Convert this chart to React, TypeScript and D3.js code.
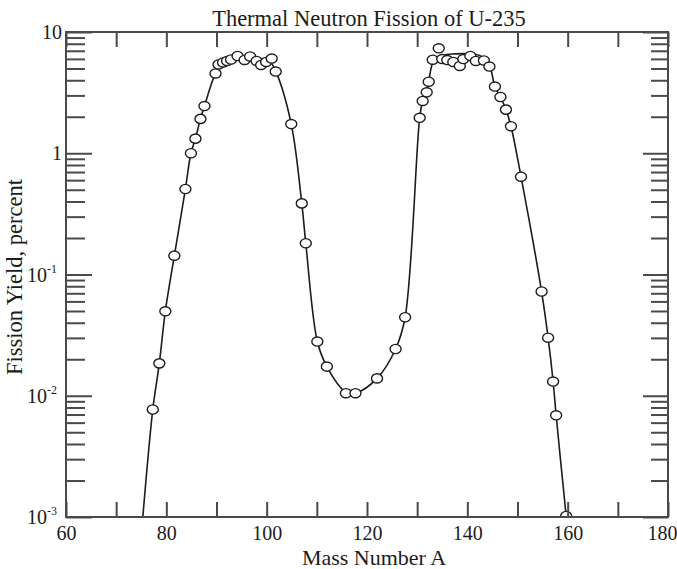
import React, { useEffect, useRef } from "react";
import * as d3 from "d3";

// measured fission yields (circles)
const massNumber = [
  77.3, 78.6, 79.8, 81.6, 83.8, 84.9, 85.8, 86.8, 87.6,
  89.8, 90.4, 91.3, 92.1, 92.9, 94.2, 95.6, 96.7, 98.0, 98.9, 99.9, 101.0, 101.8,
  104.9, 107.0, 107.8, 110.1, 112.0, 115.8, 117.7, 122.0, 125.7, 127.6,
  130.5, 131.1, 131.9, 132.3, 133.1, 134.3, 135.0, 136.0, 137.2, 138.5, 139.2,
  140.6, 141.7, 143.3, 144.4, 145.5, 146.6, 147.7, 148.7, 150.7,
  154.8, 156.1, 157.1, 157.7, 159.7,
];
const yieldPct = [
  0.0077, 0.0185, 0.0497, 0.143, 0.507, 1.0, 1.32, 1.92, 2.45,
  4.55, 5.4, 5.61, 5.77, 5.93, 6.34, 5.88, 6.28, 5.77, 5.35, 5.66, 6.04, 4.72,
  1.74, 0.386, 0.181, 0.028, 0.0174, 0.0105, 0.0105, 0.0139, 0.0243, 0.0444,
  1.96, 2.7, 3.18, 3.89, 5.91, 7.34, 5.98, 5.87, 5.66, 5.25, 5.98,
  6.34, 5.77, 5.82, 5.19, 3.55, 2.91, 2.29, 1.67, 0.641,
  0.0724, 0.0301, 0.0131, 0.0069, 0.00102,
];

// smooth curve drawn through the data
const curveMass = [
  75.0, 77.3, 78.6, 79.8, 81.6, 83.8, 84.9, 85.8, 86.8, 87.6, 89.8, 91.3, 93.0,
  94.8, 96.8, 98.8, 100.5, 101.8, 104.9, 107.0, 107.8, 110.1, 112.0, 115.8, 117.7,
  122.0, 125.7, 127.6, 130.5, 131.1, 131.9, 132.3, 133.3, 135.0, 137.5, 140.5,
  142.8, 144.4, 145.5, 146.6, 147.7, 148.7, 150.7, 154.8, 156.1, 157.1, 157.7, 159.7,
];
const curveYield = [
  0.0007, 0.0077, 0.0185, 0.0497, 0.143, 0.507, 1.0, 1.32, 1.92, 2.45, 4.55, 5.6, 6.05,
  6.25, 6.2, 6.0, 5.8, 4.75, 1.74, 0.386, 0.181, 0.028, 0.0174, 0.0107, 0.0105,
  0.0139, 0.0243, 0.0444, 1.96, 2.7, 3.18, 3.89, 5.8, 6.4, 6.6, 6.6,
  6.3, 5.3, 3.55, 2.91, 2.29, 1.67, 0.641, 0.0724, 0.0301, 0.0131, 0.0069, 0.00102,
];

const xTicks = [60, 70, 80, 90, 100, 110, 120, 130, 140, 150, 160, 170, 180];
const xTickLabels = ["60", "", "80", "", "100", "", "120", "", "140", "", "160", "", "180"];
const yDecades = [0.001, 0.01, 0.1, 1, 10];
const yDecadeLabels = [
  ["10", "-3"],
  ["10", "-2"],
  ["10", "-1"],
  ["1", ""],
  ["10", ""],
];

const width = 677;
const height = 569;
const margin = { top: 32, right: 9, bottom: 52, left: 66 };
const ink = "#1c1c1c";
const axisInk = "#4a4a4a";
const font = "'Liberation Serif', 'Times New Roman', serif";

function FissionChart() {
  const ref = useRef<SVGSVGElement>(null);

  useEffect(() => {
    const svg = d3.select(ref.current);
    svg.selectAll("*").remove();

    const x0 = margin.left;
    const x1 = width - margin.right;
    const y0 = height - margin.bottom;
    const y1 = margin.top;

    const xScale = d3.scaleLinear().domain([60, 180]).range([x0, x1]);
    const yScale = d3.scaleLog().domain([0.001, 10]).range([y0, y1]);

    svg
      .append("defs")
      .append("clipPath")
      .attr("id", "plot-clip")
      .append("rect")
      .attr("x", x0)
      .attr("y", y1)
      .attr("width", x1 - x0)
      .attr("height", y0 - y1);

    const plot = svg.append("g").attr("clip-path", "url(#plot-clip)");

    // fitted curve
    const curvePts = curveMass.map((m, i) => [m, curveYield[i]] as [number, number]);
    const line = d3
      .line<[number, number]>()
      .x((d) => xScale(d[0]))
      .y((d) => yScale(d[1]))
      .curve(d3.curveCatmullRom.alpha(0.5));

    plot
      .append("path")
      .datum(curvePts)
      .attr("fill", "none")
      .attr("stroke", ink)
      .attr("stroke-width", 1.6)
      .attr("d", line);

    // data circles
    const pts = massNumber.map((m, i) => ({ m, v: yieldPct[i] }));
    plot
      .selectAll("ellipse")
      .data(pts)
      .join("ellipse")
      .attr("cx", (d) => xScale(d.m))
      .attr("cy", (d) => yScale(d.v))
      .attr("rx", 5.5)
      .attr("ry", 4.6)
      .attr("fill", "white")
      .attr("stroke", ink)
      .attr("stroke-width", 1.4);

    // x axes (ticks point inward)
    const bottom = svg
      .append("g")
      .attr("transform", `translate(0, ${y0})`)
      .call(
        d3
          .axisBottom(xScale)
          .tickValues(xTicks)
          .tickSize(-15)
          .tickPadding(9)
          .tickFormat((d, i) => xTickLabels[i])
      );
    bottom.select(".domain").remove();
    bottom.selectAll("line").attr("stroke", axisInk).attr("stroke-width", 2);
    bottom
      .selectAll("text")
      .attr("font-family", font)
      .attr("font-size", 20)
      .attr("fill", ink)
      // last label sits against the page edge
      .attr("dx", (d) => (d === 180 ? -6 : 0));

    const top = svg
      .append("g")
      .attr("transform", `translate(0, ${y1})`)
      .call(d3.axisTop(xScale).tickValues(xTicks).tickSize(-15).tickFormat(() => ""));
    top.select(".domain").remove();
    top.selectAll("line").attr("stroke", axisInk).attr("stroke-width", 2);

    // y axes: major and minor log ticks on both sides
    const minor: number[] = [];
    yDecades.slice(0, -1).forEach((dec) => {
      for (let k = 2; k <= 9; k++) minor.push(dec * k);
    });

    const sides = [
      { axis: d3.axisLeft, pos: x0, major: -26, minor: -19 },
      { axis: d3.axisRight, pos: x1, major: -25, minor: -17 },
    ];
    sides.forEach((s) => {
      [
        { vals: yDecades, size: s.major },
        { vals: minor, size: s.minor },
      ].forEach((t) => {
        const g = svg
          .append("g")
          .attr("transform", `translate(${s.pos}, 0)`)
          .call(s.axis(yScale).tickValues(t.vals).tickSize(t.size).tickFormat(() => ""));
        g.select(".domain").remove();
        g.selectAll("line").attr("stroke", axisInk).attr("stroke-width", 2);
      });
    });

    // y tick labels with superscripts
    const yl = svg
      .append("g")
      .attr("font-family", font)
      .attr("fill", ink)
      .attr("text-anchor", "end");
    yDecades.forEach((v, i) => {
      const [base, sup] = yDecadeLabels[i];
      const t = yl
        .append("text")
        .attr("x", sup ? 57 : 62)
        .attr("y", yScale(v) + 7)
        .attr("font-size", 20);
      t.append("tspan").text(base);
      if (sup) {
        t.append("tspan").attr("font-size", 12).attr("dy", -9).text(sup);
      }
    });

    // frame
    svg
      .append("rect")
      .attr("x", x0)
      .attr("y", y1)
      .attr("width", x1 - x0)
      .attr("height", y0 - y1)
      .attr("fill", "none")
      .attr("stroke", axisInk)
      .attr("stroke-width", 2);

    // titles
    svg
      .append("text")
      .attr("x", 369)
      .attr("y", 26)
      .attr("text-anchor", "middle")
      .attr("font-family", font)
      .attr("font-size", 22.5)
      .attr("fill", ink)
      .text("Thermal Neutron Fission of U-235");

    svg
      .append("text")
      .attr("x", 374)
      .attr("y", 565)
      .attr("text-anchor", "middle")
      .attr("font-family", font)
      .attr("font-size", 22)
      .attr("fill", ink)
      .text("Mass Number A");

    svg
      .append("text")
      .attr("transform", `translate(22, ${277}) rotate(-90)`)
      .attr("text-anchor", "middle")
      .attr("font-family", font)
      .attr("font-size", 22.5)
      .attr("fill", ink)
      .text("Fission Yield, percent");
  }, []);

  return (
    <svg
      ref={ref}
      width={width}
      height={height}
      style={{ position: "absolute", left: 0, top: 0, background: "white" }}
    />
  );
}

export default function App() {
  return <FissionChart />;
}
